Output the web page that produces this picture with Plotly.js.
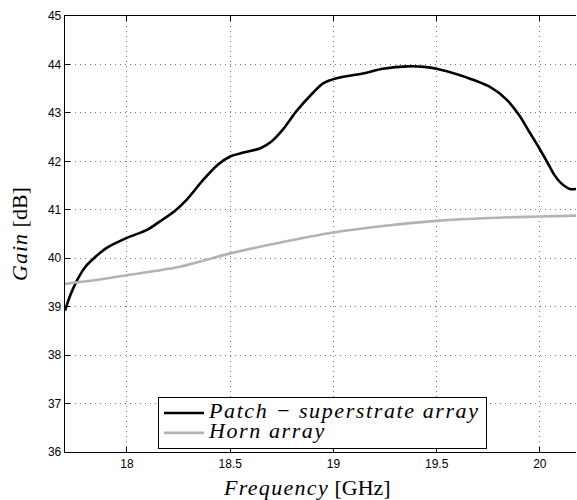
<!DOCTYPE html>
<html>
<head>
<meta charset="utf-8">
<script src="https://cdn.plot.ly/plotly-3.0.1.min.js"></script>
<style>html,body{margin:0;padding:0;background:#fff;overflow:hidden}</style>
</head>
<body>
<div id="chart" style="width:577px;height:500px"></div>
<script>
// Patch-superstrate array gain [dB] vs frequency [GHz]
const patchFreq = [17.70, 17.727, 17.76, 17.80, 17.84, 17.90, 18.00, 18.10, 18.16, 18.23, 18.29, 18.37, 18.44, 18.50, 18.565, 18.646, 18.70, 18.76, 18.82, 18.90, 18.95, 19.02, 19.15, 19.24, 19.36, 19.44, 19.50, 19.61, 19.76, 19.84, 19.90, 19.95, 20.00, 20.04, 20.07, 20.10, 20.145, 20.18];
const patchGain = [38.92, 39.25, 39.56, 39.83, 40.00, 40.21, 40.42, 40.59, 40.76, 40.97, 41.21, 41.62, 41.93, 42.10, 42.18, 42.27, 42.41, 42.68, 43.03, 43.41, 43.61, 43.72, 43.82, 43.91, 43.96, 43.95, 43.91, 43.78, 43.53, 43.27, 42.95, 42.60, 42.25, 41.95, 41.72, 41.56, 41.43, 41.43];
// Horn array gain
const hornFreq = [17.70, 17.85, 18.00, 18.25, 18.50, 18.75, 19.00, 19.25, 19.50, 19.75, 20.00, 20.18];
const hornGain = [39.47, 39.55, 39.65, 39.82, 40.10, 40.33, 40.53, 40.67, 40.77, 40.83, 40.86, 40.88];
const xTickVals = [18, 18.5, 19, 19.5, 20];
const xTickText = ["18", "18.5", "19", "19.5", "20"];
const yTickVals = [36, 37, 38, 39, 40, 41, 42, 43, 44, 45];
const seriesNames = ["Patch − superstrate array", "Horn array"];

const big = (s, ls) => '<span style="font-size:22px;letter-spacing:' + ls + 'px"><i>' + s + '</i></span>';

const traces = [
  {x: patchFreq, y: patchGain, mode: 'lines', name: big(seriesNames[0], 1.6),
   line: {color: '#000000', width: 2.6, shape: 'spline', smoothing: 0.8}},
  {x: hornFreq, y: hornGain, mode: 'lines', name: big(seriesNames[1], 1.6),
   line: {color: '#b3b3b3', width: 2.6, shape: 'spline', smoothing: 0.8}}
];

const axisCommon = {
  showline: true, linecolor: '#000', linewidth: 1.3,
  ticks: 'inside', ticklen: 5, tickcolor: '#000', tickwidth: 1,
  showgrid: true, gridcolor: '#777', gridwidth: 1, griddash: '1px,4px',
  zeroline: false,
  tickfont: {family: 'Liberation Sans, Arial, sans-serif', size: 12, color: '#000'}
};

const layout = {
  width: 577, height: 500,
  margin: {l: 65, r: 1, t: 16, b: 48},
  paper_bgcolor: '#fff', plot_bgcolor: '#fff',
  showlegend: true,
  xaxis: Object.assign({}, axisCommon, {
    range: [17.7, 20.175], tickvals: xTickVals, ticktext: xTickText, mirror: 'ticks'
  }),
  yaxis: Object.assign({}, axisCommon, {
    range: [36, 45], tickvals: yTickVals, mirror: false,
    title: {text: '<span style="letter-spacing:1px"><i>Gain</i></span> [dB]', standoff: 14,
            font: {family: 'Liberation Serif, DejaVu Serif, serif', size: 22, color: '#000'}}
  }),
  annotations: [{
    xref: 'paper', yref: 'paper', x: (307 - 65) / 511, y: -(487 - 452) / 436, xanchor: 'center', yanchor: 'middle',
    showarrow: false, text: '<span style="letter-spacing:1.3px"><i>Frequency</i></span> [GHz]',
    font: {family: 'Liberation Serif, DejaVu Serif, serif', size: 22, color: '#000'}
  }],
  legend: {
    x: (158 - 65) / 511, y: (452 - 397) / 436, xanchor: 'left', yanchor: 'top',
    bgcolor: '#fff', bordercolor: '#000', borderwidth: 1,
    font: {family: 'Liberation Serif, DejaVu Serif, serif', size: 13, color: '#000'},
    tracegroupgap: 0, itemwidth: 40
  }
};

Plotly.newPlot('chart', traces, layout, {staticPlot: true, displayModeBar: false});
</script>
</body>
</html>
